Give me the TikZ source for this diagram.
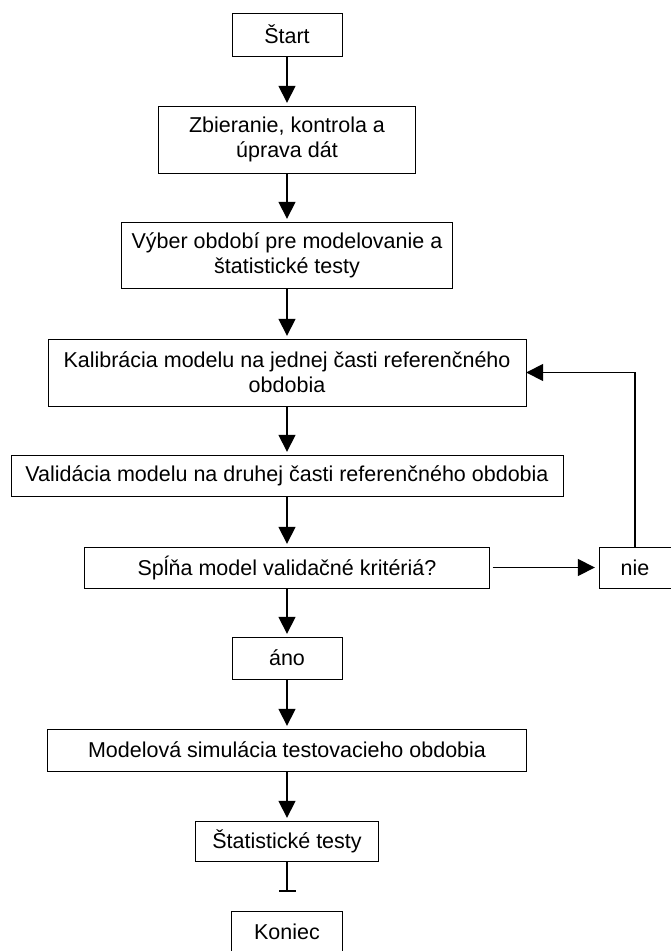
\documentclass[tikz,border=0pt]{standalone}
\usepackage{fontspec}
\setmainfont{Liberation Sans}
\usepackage{tikz}
\usetikzlibrary{arrows.meta}
\usetikzlibrary{positioning}
\tikzset{auto,>={Triangle[length=17pt,width=17pt]}, line width=1.8pt, font=\fontsize{21.5}{25}\selectfont}
\tikzstyle{block} = [draw, fill=white, rectangle, inner sep=0pt, text centered, align=center]
\tikzstyle{line} = [draw, line width=1.6pt, shorten >=3pt]
\tikzstyle{output} = [coordinate]

\begin{document}
\begin{tikzpicture}[x=1pt,y=-1pt]
		\useasboundingbox (0,0) rectangle (671,951);
		\node [block, minimum width=110, minimum height=43] (start) at (287,34.5) {Štart};
		\node [block, minimum width=257, minimum height=67] (collect) at (287,139.5) {Zbieranie, kontrola a\\úprava dát};
		\node [block, minimum width=331, minimum height=66] (period) at (287,255) {Výber období pre modelovanie a\\štatistické testy};
		\node [block, minimum width=478, minimum height=67] (calibration) at (287,372.5) {Kalibrácia modelu na jednej časti referenčného\\obdobia};
		\node [block, minimum width=552, minimum height=41] (validation) at (287,475.5) {Validácia modelu na druhej časti referenčného obdobia};
		\node [block, minimum width=405, minimum height=41] (criteria) at (287,567.5) {Spĺňa model validačné kritériá?};
		\node [block, minimum width=72, minimum height=41] (no) at (635,567.5) {nie};
		\node [block, minimum width=110, minimum height=42] (yes) at (287,658) {áno};
		\node [block, minimum width=479, minimum height=42] (simulation) at (287,750) {Modelová simulácia testovacieho obdobia};
		\node [block, minimum width=183, minimum height=40] (tests) at (287,841) {Štatistické testy};
		\node [output] (stop) at (287,892) {};
		\node [block, minimum width=111, minimum height=42] (end) at (287,932) {Koniec};

		\draw [->, line] (start) -- (collect);
		\draw [->, line] (collect) -- (period);
		\draw [->, line] (period) -- (calibration);
		\draw [->, line] (calibration) -- (validation);
		\draw [->, line] (validation) -- (criteria);
		\draw [->, line, shorten <=3pt, shorten >=4pt] (criteria) -- (no);
		\draw [->, line, shorten >=0pt] (no) |- (calibration);
		\draw [->, line] (criteria) -- (yes);
		\draw [->, line] (yes) -- (simulation);
		\draw [->, line] (simulation) -- (tests);
		\draw [-{Bar[width=17pt]}, line, shorten >=0pt] (tests) -- (stop);
	\end{tikzpicture}
\end{document}
